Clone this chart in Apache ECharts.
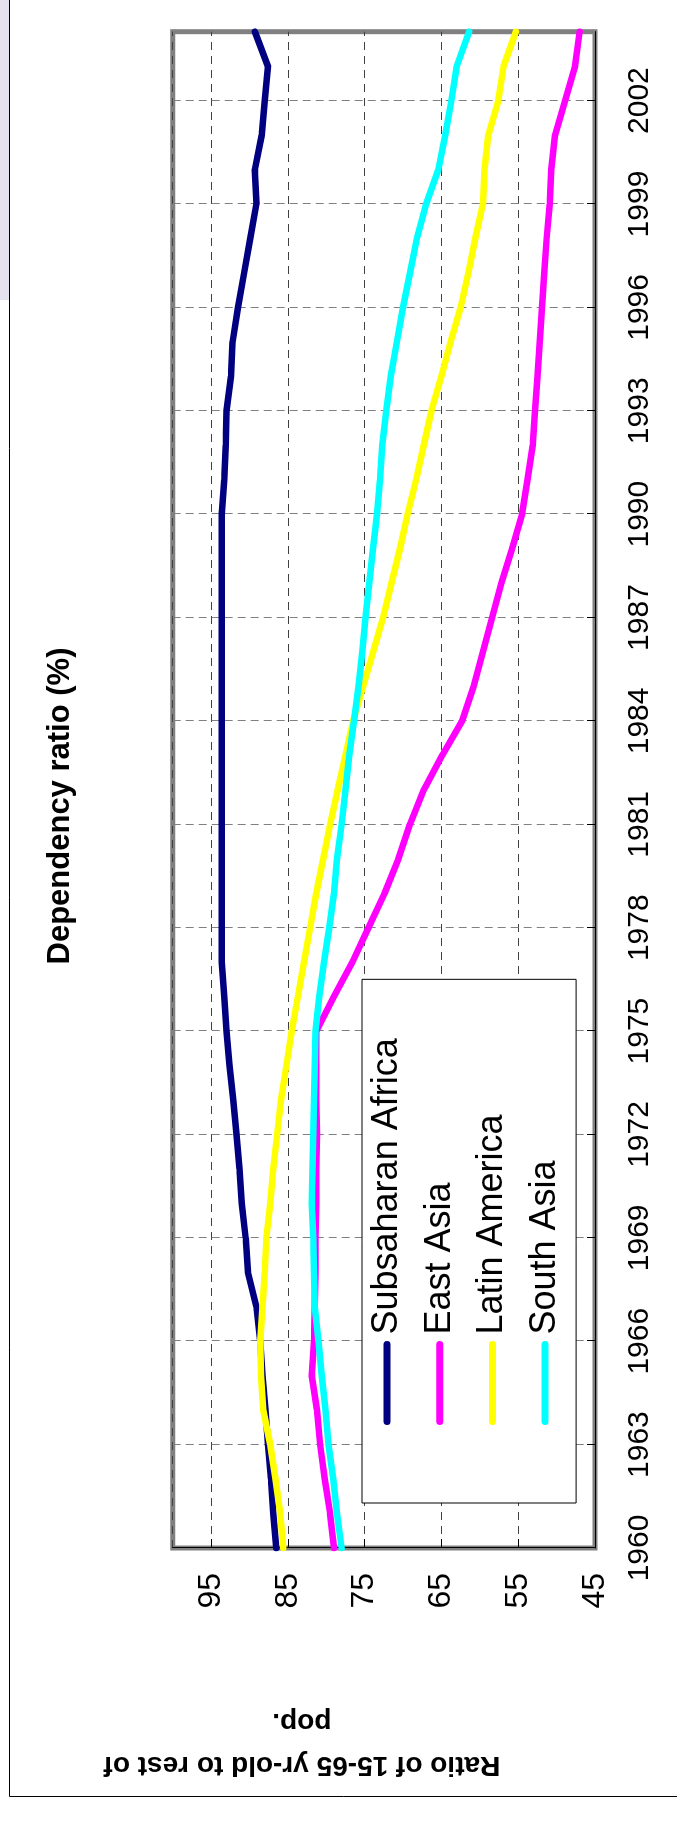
<!DOCTYPE html>
<html>
<head>
<meta charset="utf-8">
<script src="https://cdn.jsdelivr.net/npm/echarts@6/dist/echarts.min.js"></script>
<style>
  html, body { margin: 0; padding: 0; background: #ffffff; overflow: hidden; width: 677px; height: 1835px; }
  /* the chart is laid out landscape and turned a quarter turn counter-clockwise */
  #chart {
    position: absolute; left: 0; top: 0;
    width: 1835px; height: 677px;
    transform-origin: 0 0;
    transform: translate(0, 1835px) rotate(-90deg);
  }
</style>
</head>
<body>
<div id="chart"></div>
<script>
// Years 1960..2004
const years = [];
for (let y = 1960; y <= 2004; y++) years.push(String(y));

const seriesNames = ['Subsaharan Africa', 'East Asia', 'Latin America', 'South Asia'];

// Dependency ratio, % (ratio of 15-65 yr-olds to the rest of the population)
const subsaharanAfrica = [
  86.5, 86.9, 87.2, 87.6, 87.9, 88.3, 88.6, 89.1, 90.2, 90.5,
  91.0, 91.3, 91.7, 92.1, 92.6, 93.0, 93.3, 93.6, 93.6, 93.6,
  93.6, 93.6, 93.6, 93.6, 93.6, 93.6, 93.6, 93.6, 93.6, 93.6,
  93.6, 93.3, 93.1, 93.0, 92.4, 92.2, 91.5, 90.7, 89.9, 89.1,
  89.3, 88.4, 88.0, 87.6, 89.3
];
const eastAsia = [
  79.0, 79.5, 80.2, 80.8, 81.2, 81.9, 81.6, 81.5, 81.4, 81.4,
  81.3, 81.3, 81.2, 81.3, 81.3, 81.3, 79.0, 76.6, 74.5, 72.4,
  70.6, 69.1, 67.3, 64.9, 62.3, 60.8, 59.6, 58.4, 57.2, 55.8,
  54.5, 53.8, 53.1, 52.8, 52.5, 52.2, 51.9, 51.6, 51.3, 50.9,
  50.7, 50.2, 48.9, 47.6, 47.0
];
const latinAmerica = [
  85.6, 86.0, 86.6, 87.3, 88.2, 88.5, 88.6, 88.3, 88.0, 87.8,
  87.3, 86.9, 86.4, 85.9, 85.2, 84.5, 83.7, 82.9, 82.1, 81.3,
  80.4, 79.5, 78.5, 77.5, 76.5, 75.2, 73.9, 72.6, 71.5, 70.4,
  69.4, 68.3, 67.3, 66.3, 65.0, 63.8, 62.5, 61.5, 60.6, 59.6,
  59.4, 58.9, 57.6, 56.9, 55.3
];
const southAsia = [
  78.0, 78.6, 79.1, 79.7, 80.1, 80.6, 81.0, 81.5, 81.6, 81.7,
  81.9, 81.8, 81.7, 81.6, 81.5, 81.4, 80.9, 80.3, 79.6, 79.0,
  78.6, 78.0, 77.5, 77.0, 76.4, 75.8, 75.3, 74.9, 74.4, 73.9,
  73.4, 73.0, 72.7, 72.2, 71.6, 70.8, 70.0, 69.1, 68.2, 67.0,
  65.4, 64.5, 63.7, 63.0, 61.4
];

const seriesData = [subsaharanAfrica, eastAsia, latinAmerica, southAsia];
const seriesColors = ['#000080', '#ff00ff', '#ffff00', '#00ffff'];

const FONT = "'Liberation Sans', Arial, Helvetica, sans-serif";

const chart = echarts.init(document.getElementById('chart'), null, { renderer: 'canvas' });

chart.setOption({
  backgroundColor: '#ffffff',
  animation: false,
  title: {
    text: 'Dependency ratio (%)',
    left: 1029,
    top: 60,
    padding: 0,
    textAlign: 'center',
    textVerticalAlign: 'middle',
    textStyle: { fontFamily: FONT, fontSize: 31, fontWeight: 'bold', color: '#000000' }
  },
  graphic: [
    // tinted page strip and the outer chart-area frame
    { type: 'rect', z: -10, silent: true,
      shape: { x: 1535, y: 0, width: 300, height: 9 },
      style: { fill: '#e6e1ee' } },
    { type: 'rect', z: -9, silent: true,
      shape: { x: 38.5, y: 9.5, width: 1900, height: 800 },
      style: { fill: '#ffffff', stroke: '#000000', lineWidth: 1 } }
  ],
  legend: {
    orient: 'vertical',
    left: 332,
    top: 362,
    padding: [4, 59, 10, 78],
    itemGap: 10.7,
    itemWidth: 77,
    itemHeight: 42,
    backgroundColor: '#ffffff',
    borderColor: '#000000',
    borderWidth: 1,
    borderRadius: 0,
    data: seriesNames,
    itemStyle: { opacity: 0 },
    lineStyle: { width: 7, cap: 'round' },
    textStyle: { fontFamily: FONT, fontSize: 36, lineHeight: 42, color: '#000000', padding: [0, 0, 0, 5] }
  },
  grid: {
    left: 287,
    right: 31.7,
    top: 172.7,
    bottom: 82,
    outerBoundsMode: 'none',
    show: true,
    backgroundColor: '#ffffff',
    borderColor: '#808080',
    borderWidth: 5
  },
  xAxis: {
    type: 'category',
    data: years,
    boundaryGap: false,
    axisLine: { show: true, lineStyle: { color: '#000000', width: 1 } },
    axisTick: { show: true, inside: true, length: 8, interval: 2, lineStyle: { color: '#000000' } },
    axisLabel: { interval: 2, margin: 30, fontFamily: FONT, fontSize: 30, color: '#000000' },
    splitLine: { show: true, interval: 2, lineStyle: { color: '#808080', width: 1, type: [8, 5] } }
  },
  yAxis: {
    type: 'value',
    min: 45,
    max: 100,
    interval: 10,
    name: 'Ratio of 15-65 yr-old to rest of\npop.',
    nameLocation: 'middle',
    nameRotate: 90,
    nameGap: 152,
    nameTextStyle: {
      fontFamily: FONT, fontSize: 28, fontWeight: 'bold', color: '#000000',
      lineHeight: 43, align: 'center', padding: [0, 0, 0, 164]
    },
    axisLine: { show: true, lineStyle: { color: '#000000', width: 1 } },
    axisTick: { show: true, inside: true, length: 9, lineStyle: { color: '#000000' } },
    axisLabel: { margin: 25, showMaxLabel: false, fontFamily: FONT, fontSize: 32, color: '#000000' },
    splitLine: { show: true, lineStyle: { color: '#404040', width: 1, type: [8, 6] } }
  },
  series: seriesNames.map((name, i) => ({
    name: name,
    type: 'line',
    data: seriesData[i],
    symbol: 'none',
    smooth: false,
    color: seriesColors[i],
    lineStyle: { color: seriesColors[i], width: 6.5, cap: 'round', join: 'round' }
  }))
});
</script>
</body>
</html>
